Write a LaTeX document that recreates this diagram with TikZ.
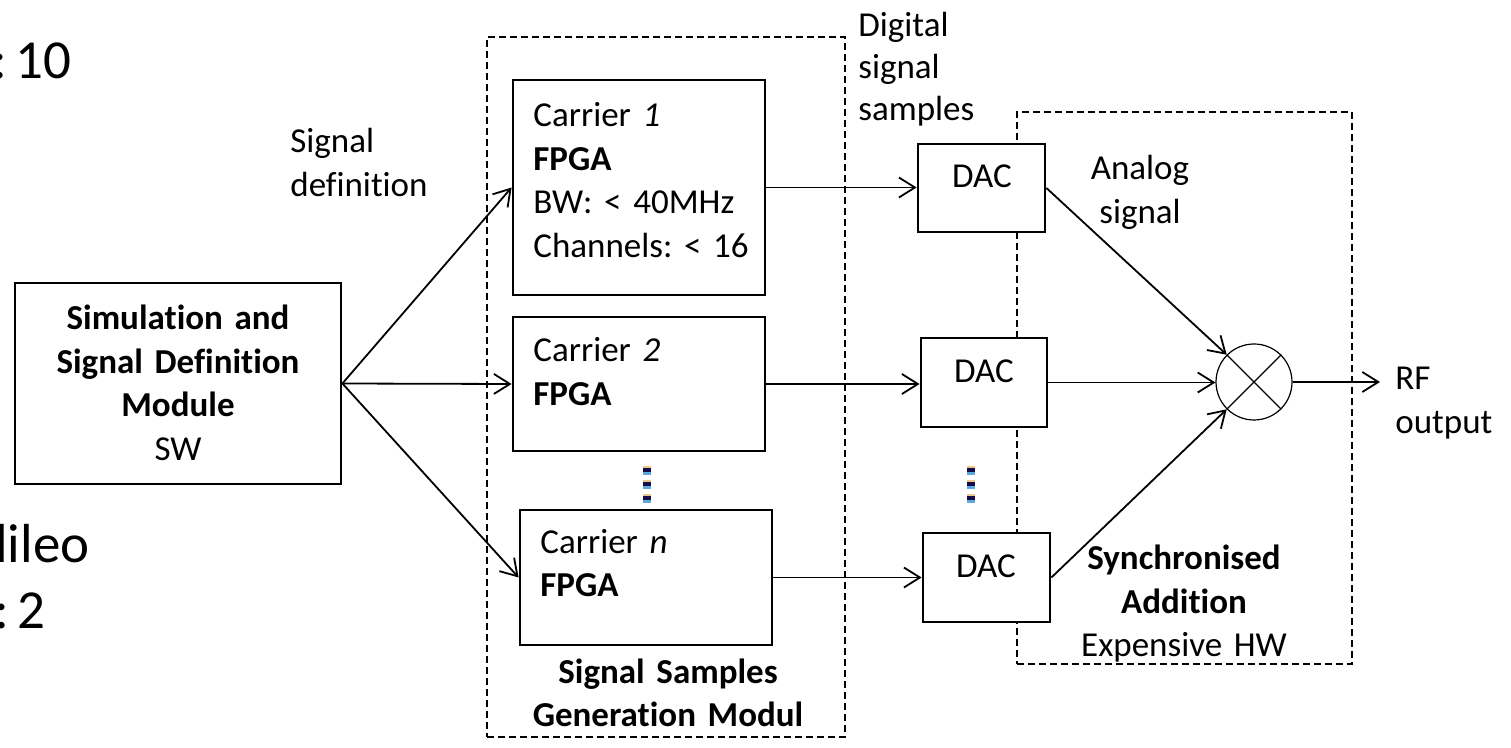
\documentclass[tikz,border=0pt]{standalone}
\usepackage{fontspec}
\setmainfont{Carlito}[WordSpace=0.7, Ligatures=NoCommon]
\frenchspacing
\usetikzlibrary{arrows.meta,fit}
\definecolor{dotTan}{HTML}{E8C890}
\definecolor{dotNavy}{HTML}{140C48}
\definecolor{dotBlue}{HTML}{5AAAE0}
\begin{document}
\begin{tikzpicture}[x=0.5pt,y=-0.5pt,
  every node/.style={inner sep=0pt, font=\fontsize{17.5pt}{21.75pt}\selectfont},
  box/.style={draw, line width=1.4pt, fill=white, inner sep=0pt, fit={#1}},
  frame/.style={draw, line width=1.2pt, dash pattern=on 3.5pt off 2pt, inner sep=0pt, fit={#1}},
  conn/.style={-{Straight Barb[length=8pt,width=10pt]}, line width=0.9pt},
  ltxt/.style={anchor=base west, text width=#1, align=left},
  ctxt/.style={anchor=base, text width=#1, align=center},
  bigtxt/.style={font=\fontsize{27.5pt}{33pt}\selectfont},
]
\useasboundingbox (0,0) rectangle (1511,748);

% left cut-off text
\node[bigtxt, anchor=base east] (lt1) at (72,79) {: 10};
\node[bigtxt, anchor=base west] (lt2) at (-5,563) {lileo};
\node[bigtxt, anchor=base east] (lt3) at (46,628) {: 2};

% dashed frames
\node[frame={(487,37) (845,737)}] (fr1) {};
\node[frame={(1017,112) (1352,664)}] (fr2) {};

% simulation box
\node[box={(15,283) (341,484)}] (sim) {};
\node[ctxt=300pt] (simt) at (178,330) {\textbf{Simulation and}\\\textbf{Signal Definition}\\\textbf{Module}\\SW};

\node[ltxt=80pt] (sigdef) at (290,153) {Signal\\definition};

% carriers
\node[box={(513,80) (765,295)}] (c1) {};
\node[ltxt=120pt] (c1t) at (533,127) {Carrier \textit{1}\\\textbf{FPGA}\\BW: < 40MHz\\Channels: < 16};
\node[box={(513,317) (765,451)}] (c2) {};
\node[ltxt=120pt] (c2t) at (533,362) {Carrier \textit{2}\\\textbf{FPGA}};
\node[box={(520,510) (772,645)}] (cn) {};
\node[ltxt=120pt] (cnt) at (540,553) {Carrier \textit{n}\\\textbf{FPGA}};

\node[ctxt=170pt] (ssgm) at (668,683) {\textbf{Signal Samples}\\\textbf{Generation Modul}};

\node[ltxt=80pt, font=\fontsize{17.5pt}{21pt}\selectfont] (digi) at (858,37) {Digital\\signal\\samples};

% DACs
\node[box={(918,144) (1045,232)}] (dac1) {};
\node[anchor=base] (dac1t) at (982,188) {DAC};
\node[box={(921,338) (1047,427)}] (dac2) {};
\node[anchor=base] (dac2t) at (984,383) {DAC};
\node[box={(923,533) (1050,622)}] (dac3) {};
\node[anchor=base] (dac3t) at (986,578) {DAC};

% vertical dots
\foreach \xx in {647,971} {
  \foreach \yy in {466,480,494} {
    \fill[dotTan] (\xx-4,\yy) rectangle (\xx+4,\yy+2);
    \fill[dotNavy] (\xx-4,\yy+2) rectangle (\xx+4,\yy+6);
    \fill[dotBlue] (\xx-4,\yy+6) rectangle (\xx+4,\yy+9);
  }
}

\node[ctxt=80pt] (analog) at (1140,180) {Analog\\signal};

% summation
\node[draw, circle, minimum size=38pt, line width=0.6pt] (sum) at (1254,382) {};
\draw[line width=0.6pt] (sum.north west) -- (sum.south east);
\draw[line width=0.6pt] (sum.south west) -- (sum.north east);

\node[ltxt=60pt] (rf) at (1395,390) {RF\\output};
\node[ctxt=140pt] (sync) at (1184,570) {\textbf{Synchronised}\\\textbf{Addition}\\Expensive HW};

\coordinate (out) at (1380,382);

% connectors
\draw[conn] (sim.east) -- (c1.west);
\draw[conn] (sim.east) -- (c2.west);
\draw[conn] (sim.east) -- (cn.west);
\draw[conn] (c1.east) -- (c1.east -| dac1.west);
\draw[conn] (c2.east) -- (c2.east -| dac2.west);
\draw[conn] (cn.east) -- (cn.east -| dac3.west);
\draw[conn] (dac1.east) -- (sum.north west);
\draw[conn] (dac2.east) -- (dac2.east -| sum.west);
\draw[conn] (dac3.east) -- (sum.south west);
\draw[conn] (sum.east) -- (out);
\end{tikzpicture}
\end{document}
